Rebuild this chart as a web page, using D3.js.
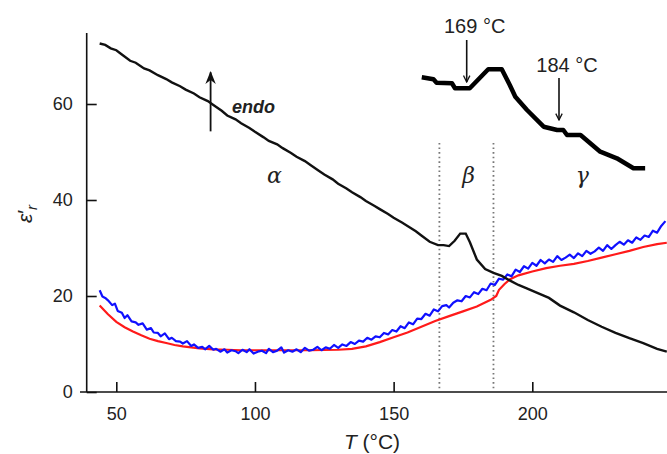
<!DOCTYPE html>
<html>
<head>
<meta charset="utf-8">
<script src="https://cdn.jsdelivr.net/npm/d3@7/dist/d3.min.js"></script>
<style>
  html, body { margin: 0; padding: 0; background: #fff; }
  svg { display: block; }
  text { font-family: "Liberation Sans", Arial, sans-serif; fill: #222; }
</style>
</head>
<body>
<svg id="chart" width="667" height="454"></svg>
<script>
// ---- Data ----
const xTicks = [50, 100, 150, 200];
const yTicks = [0, 20, 40, 60];

// black curve: [T (°C), ε'r]
const blackCurve = [
  [44,72.6],[46,72.3],[48,71.6],[50,71.2],[52,70.3],[55,69.0],[57,68.6],[60,67.4],[62,67.0],[65,66.0],
  [68,65.2],[70,64.5],[73,63.7],[75,63.0],[78,62.2],[80,61.4],[83,60.6],[85,59.8],[88,58.6],[90,57.6],
  [93,56.8],[95,56.0],[98,55.0],[100,54.2],[103,53.1],[105,52.3],[108,51.6],[110,50.8],[113,49.8],[115,49.0],
  [118,48.1],[120,47.3],[123,46.1],[125,45.3],[128,44.3],[130,43.4],[133,42.4],[135,41.6],[138,40.6],[140,39.8],
  [143,38.8],[145,38.1],[148,37.1],[150,36.3],[153,35.3],[155,34.6],[158,33.5],[160,32.6],[163,31.3],[166,30.6],
  [168,30.6],[170,30.4],[172,31.5],[174,33.0],[176,33.0],[177.5,31.2],[180,27.6],[183,25.6],[186,24.8],
  [189,24.2],[192,23.2],[195,22.3],[198,21.6],[202,20.6],[206,19.6],[210,18.0],[215,16.6],[220,15.0],
  [225,13.6],[230,12.3],[235,11.2],[240,10.2],[245,9.0],[248.5,8.4]
];

// red curve
const redCurve = [
  [44,18.0],[47,16.2],[50,14.6],[53,13.5],[56,12.6],[59,11.8],[62,11.1],[65,10.6],
  [68,10.2],[71,9.8],[74,9.5],[77,9.3],[80,9.1],[85,8.9],[90,8.8],[95,8.7],[100,8.7],
  [110,8.7],[120,8.7],[130,8.8],[135,9.0],[140,9.5],[145,10.4],[150,11.4],[155,12.4],
  [160,13.6],[165,14.8],[170,15.8],[175,16.8],[180,17.8],[185,19.2],[187,20.0],[188,21.3],
  [190,22.5],[192,23.5],[195,24.3],[200,25.1],[205,25.8],[210,26.3],[215,26.7],[220,27.3],
  [225,28.0],[230,28.7],[235,29.4],[240,30.2],[245,30.8],[248.5,31.1]
];

// blue curve (noisy)
const blueCurve = [
  [44,21.2],[45,19.9],[46,19.6],[47,19.1],[48.5,18.1],[49.5,18.4],[50.5,16.9],[52,16.5],[53,15.4],
  [54,16.0],[55.5,14.7],[57,14.5],[58,14.0],[59.5,14.3],[61,13.0],[62.5,13.3],[63.5,12.4],[65,12.3],
  [66,11.6],[67.5,12.2],[69,11.0],[70,11.3],[71.5,10.6],[73,10.5],[74,10.1],[75.5,10.6],[77,9.6],
  [78,9.9],[79.5,9.2],[81,9.4],[82,8.9],[83.5,9.6],[85,8.8],[86,9.0],[87.5,8.4],[89,8.9],
  [90,8.2],[91.5,8.7],[93,8.5],[94,8.1],[95.5,8.8],[97,8.3],[98,8.9],[99.5,8.0],[101,8.4],
  [102.5,8.6],[104,8.1],[105,9.0],[106.5,8.3],[108,8.6],[109.5,9.3],[110.5,8.2],[112,8.7],[113.5,8.4],
  [115,8.9],[116.5,8.3],[118,9.2],[119.5,8.6],[121,8.8],[122.5,9.4],[124,8.7],[125.5,9.3],[127,9.0],
  [128.5,9.8],[130,9.2],[131.5,9.9],[133,9.6],[134.5,10.4],[136,10.0],[137.5,10.7],[139,10.5],
  [140.5,11.3],[142,10.9],[143.5,11.6],[145,11.4],[146.5,12.3],[148,12.0],[149.5,12.9],[151,12.6],
  [152.5,13.7],[154,13.3],[155.5,14.5],[157,14.1],[158.5,15.3],[160,15.2],[161.5,16.3],[163,15.9],
  [164.5,17.2],[166,16.8],[167.5,17.9],[169,18.1],[170,17.6],[171.5,18.6],[173,19.1],[174.5,18.9],
  [176,20.0],[177.5,19.7],[179,20.8],[180.5,20.4],[182,21.5],[183.5,21.2],[185,22.6],[186.5,22.3],
  [188,23.6],[189.5,23.4],[191,24.5],[192.5,24.1],[194,25.5],[195.5,25.0],[197,26.2],[198.5,25.7],
  [200,26.9],[201.5,26.3],[203,27.5],[204.5,26.8],[206,27.6],[207.5,27.1],[209,28.3],[210.5,27.5],
  [212,28.0],[213.5,28.6],[215,27.9],[216.5,28.9],[218,28.3],[219.5,29.4],[221,28.8],[222.5,29.3],
  [224,30.1],[225.5,29.4],[227,30.6],[228.5,29.8],[230,30.6],[231.5,31.3],[233,30.7],[234.5,31.6],
  [236,31.1],[237.5,32.2],[239,31.7],[240.5,32.6],[242,32.3],[243.5,33.6],[245,33.2],[246.5,34.6],
  [248,35.6]
];

// inset DSC curve: [T (°C), heat flow (arb. units, endo up)]
const dscCurve = [
  [161.7,92.7],[163.6,90.7],[164.1,87.3],[166.6,86.7],[167.1,81.7],[169.5,81.7],
  [172.5,100.7],[174.7,100.7],[176.0,85],[176.9,73.3],[178.8,60],[181.5,43.3],
  [183.7,40],[184.7,40],[185.3,35],[187.5,35],[190.7,18.3],[193.4,11.7],[196.1,1.7],[198.0,1.7]
];
const dscMarks = [169, 184];
const phaseBounds = [166.5, 186];
const phaseLabels = [["α", 107], ["β", 177], ["γ", 218]];

// ---- Layout ----
const svg = d3.select("#chart");
const x = d3.scaleLinear().domain([50, 200]).range([116.3, 532.3]);
const y = d3.scaleLinear().domain([0, 60]).range([392, 104]);
const xi = d3.scaleLinear().domain([169, 184]).range([466.7, 559]);
const yi = d3.scaleLinear().domain([0, 100]).range([170, 70]);

// defs: arrowheads
const defs = svg.append("defs");
defs.append("marker").attr("id", "arrowOpen")
  .attr("viewBox", "0 0 10 10").attr("refX", 9).attr("refY", 5)
  .attr("markerWidth", 8).attr("markerHeight", 8).attr("markerUnits", "userSpaceOnUse")
  .attr("orient", "auto")
  .append("path").attr("d", "M1,1 L9,5 L1,9").attr("fill", "none").attr("stroke", "#111").attr("stroke-width", 1.6);
defs.append("marker").attr("id", "arrowFill")
  .attr("viewBox", "0 0 10 10").attr("refX", 9).attr("refY", 5)
  .attr("markerWidth", 13).attr("markerHeight", 13).attr("markerUnits", "userSpaceOnUse")
  .attr("orient", "auto")
  .append("path").attr("d", "M0,1 L10,5 L0,9 L3,5 Z").attr("fill", "#111");

// axes
const xAxis = d3.axisBottom(x).tickValues(xTicks).tickSize(-10).tickSizeOuter(0).tickPadding(15);
const gx = svg.append("g").attr("transform", `translate(0,${y(0)})`).call(xAxis);
gx.select(".domain").remove();
gx.selectAll("line").attr("stroke", "#111").attr("stroke-width", 1.6);
gx.selectAll("text").attr("font-size", 18).attr("fill", "#222");

const yAxisX = 86.7;
const yAxis = d3.axisLeft(y).tickValues(yTicks).tickSize(-10).tickSizeOuter(0).tickPadding(14);
const gy = svg.append("g").attr("transform", `translate(${yAxisX},0)`).call(yAxis);
gy.select(".domain").remove();
gy.selectAll("line").attr("stroke", "#111").attr("stroke-width", 1.6);
gy.selectAll("text").attr("font-size", 18).attr("fill", "#222");

svg.append("line").attr("x1", yAxisX).attr("x2", yAxisX).attr("y1", y(0)).attr("y2", y(74.8))
  .attr("stroke", "#111").attr("stroke-width", 1.6);
svg.append("line").attr("x1", 80).attr("x2", 667).attr("y1", y(0)).attr("y2", y(0))
  .attr("stroke", "#111").attr("stroke-width", 1.6);

// axis labels
const xl = svg.append("text").attr("x", 372).attr("y", 449).attr("text-anchor", "middle").attr("font-size", 21);
xl.append("tspan").attr("font-style", "italic").text("T");
xl.append("tspan").text(" (°C)");

const yl = svg.append("text").attr("transform", "translate(32,214) rotate(-90)")
  .attr("text-anchor", "middle").attr("font-size", 21);
yl.append("tspan").attr("font-style", "italic").text("ε");
yl.append("tspan").text("′");
yl.append("tspan").attr("font-style", "italic").attr("font-size", 15).attr("dy", 5).text("r");

// phase boundaries
svg.selectAll(".phase").data(phaseBounds).enter().append("line")
  .attr("x1", d => x(d)).attr("x2", d => x(d))
  .attr("y1", y(51.9)).attr("y2", y(0.8))
  .attr("stroke", "#777").attr("stroke-width", 1.8).attr("stroke-dasharray", "1.6,3");

svg.selectAll(".plabel").data(phaseLabels).enter().append("text")
  .attr("x", d => x(d[1])).attr("y", y(43.6))
  .attr("text-anchor", "middle")
  .style("font-family", "'DejaVu Serif', 'Liberation Serif', serif")
  .attr("font-style", "italic").attr("font-size", 22)
  .text(d => d[0]);

// curves
const line = d3.line().x(d => x(d[0])).y(d => y(d[1]));
svg.append("path").datum(redCurve).attr("d", line)
  .attr("fill", "none").attr("stroke", "#ff1a1a").attr("stroke-width", 2.2);
svg.append("path").datum(blueCurve).attr("d", line)
  .attr("fill", "none").attr("stroke", "#1010ff").attr("stroke-width", 2.2).attr("stroke-linejoin", "round");
svg.append("path").datum(blackCurve).attr("d", line)
  .attr("fill", "none").attr("stroke", "#111").attr("stroke-width", 2.4);

// endo arrow
svg.append("line").attr("x1", x(84)).attr("x2", x(84)).attr("y1", y(54.3)).attr("y2", y(66.6))
  .attr("stroke", "#111").attr("stroke-width", 1.8).attr("marker-end", "url(#arrowFill)");
svg.append("text").attr("x", 232).attr("y", 113).attr("font-size", 18)
  .attr("font-weight", "bold").attr("font-style", "italic").text("endo");

// inset DSC
const iline = d3.line().x(d => xi(d[0])).y(d => yi(d[1]));
svg.append("path").datum(dscCurve).attr("d", iline)
  .attr("fill", "none").attr("stroke", "#000").attr("stroke-width", 4.5)
  .attr("stroke-linejoin", "round");

const arrowInfo = [[dscMarks[0], 40, 82, 33], [dscMarks[1], 78, 120, 72]];
arrowInfo.forEach(([t, y1, y2, ty]) => {
  svg.append("line").attr("x1", xi(t)).attr("x2", xi(t)).attr("y1", y1).attr("y2", y2)
    .attr("stroke", "#111").attr("stroke-width", 1.6).attr("marker-end", "url(#arrowOpen)");
  svg.append("text").attr("x", xi(t) + 8).attr("y", ty).attr("text-anchor", "middle")
    .attr("font-size", 20).text(`${t} °C`);
});
</script>
</body>
</html>
